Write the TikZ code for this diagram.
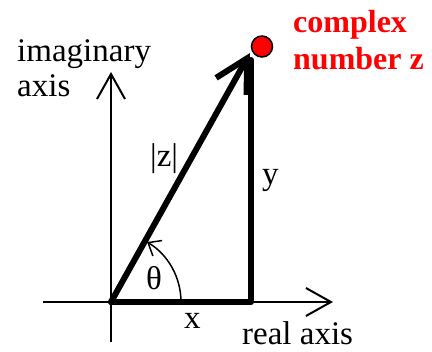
\documentclass[tikz,border=0pt]{standalone}
\usepackage{fontspec}
\setmainfont{Liberation Serif}
\usetikzlibrary{arrows.meta}
\begin{document}
\begin{tikzpicture}[x=1pt,y=-1pt,
  lbl/.style={anchor=base west, inner sep=0pt, font=\fontsize{33}{35}\selectfont},
  redlbl/.style={anchor=base west, inner sep=0pt, text=red, font=\bfseries\fontsize{32}{36}\selectfont},
  axisline/.style={line width=2pt, -{Straight Barb[length=25pt,width=28pt,line width=2pt]}},
  thick side/.style={line width=6pt, line cap=round, line join=round},
  vecline/.style={thick side, -{Straight Barb[length=32pt,width=35pt,line width=6pt]}},
  anglearc/.style={line width=1.5pt, -{Straight Barb[length=11pt,width=18pt,line width=1.5pt]}},
  zdotstyle/.style={circle, fill=red, draw=black, line width=1.5pt, minimum size=21pt, inner sep=0pt}]
\useasboundingbox (0,0) rectangle (432,352);
\coordinate (O) at (111,302);
\coordinate (ytip) at (111,72);
\coordinate (ybot) at (111,342);
\coordinate (xtip) at (333,302);
\coordinate (xleft) at (43,302);
\coordinate (Z) at (250,53);
\coordinate (R) at (251,302);
\coordinate (Rtop) at (251,60);
\coordinate (arcstart) at (181,302);
% axes
\draw[axisline] (ybot) -- (ytip);
\draw[axisline] (xleft) -- (xtip);
% triangle
\draw[thick side] (O) -- (R) -- (Rtop);
\draw[vecline] (O) -- (Z);
% angle arc
\draw[anglearc] (arcstart) arc[start angle=0, end angle=-59, radius=70];
% point
\node[zdotstyle] (zdot) at (262,46.5) {};
% labels
\node[lbl] (imag) at (17,62) {imaginary};
\node[lbl] (axisl) at (17,97) {axis};
\node[lbl] (absz) at (150,167) {|z|};
\node[lbl] (ylab) at (262,185) {y};
\node[lbl] (th) at (146,290) {θ};
\node[lbl] (xlab) at (184,329) {x};
\node[lbl] (real) at (242,345) {real axis};
\node[redlbl] (c1) at (293,33) {complex};
\node[redlbl] (c2) at (293,70) {number z};
\end{tikzpicture}
\end{document}
